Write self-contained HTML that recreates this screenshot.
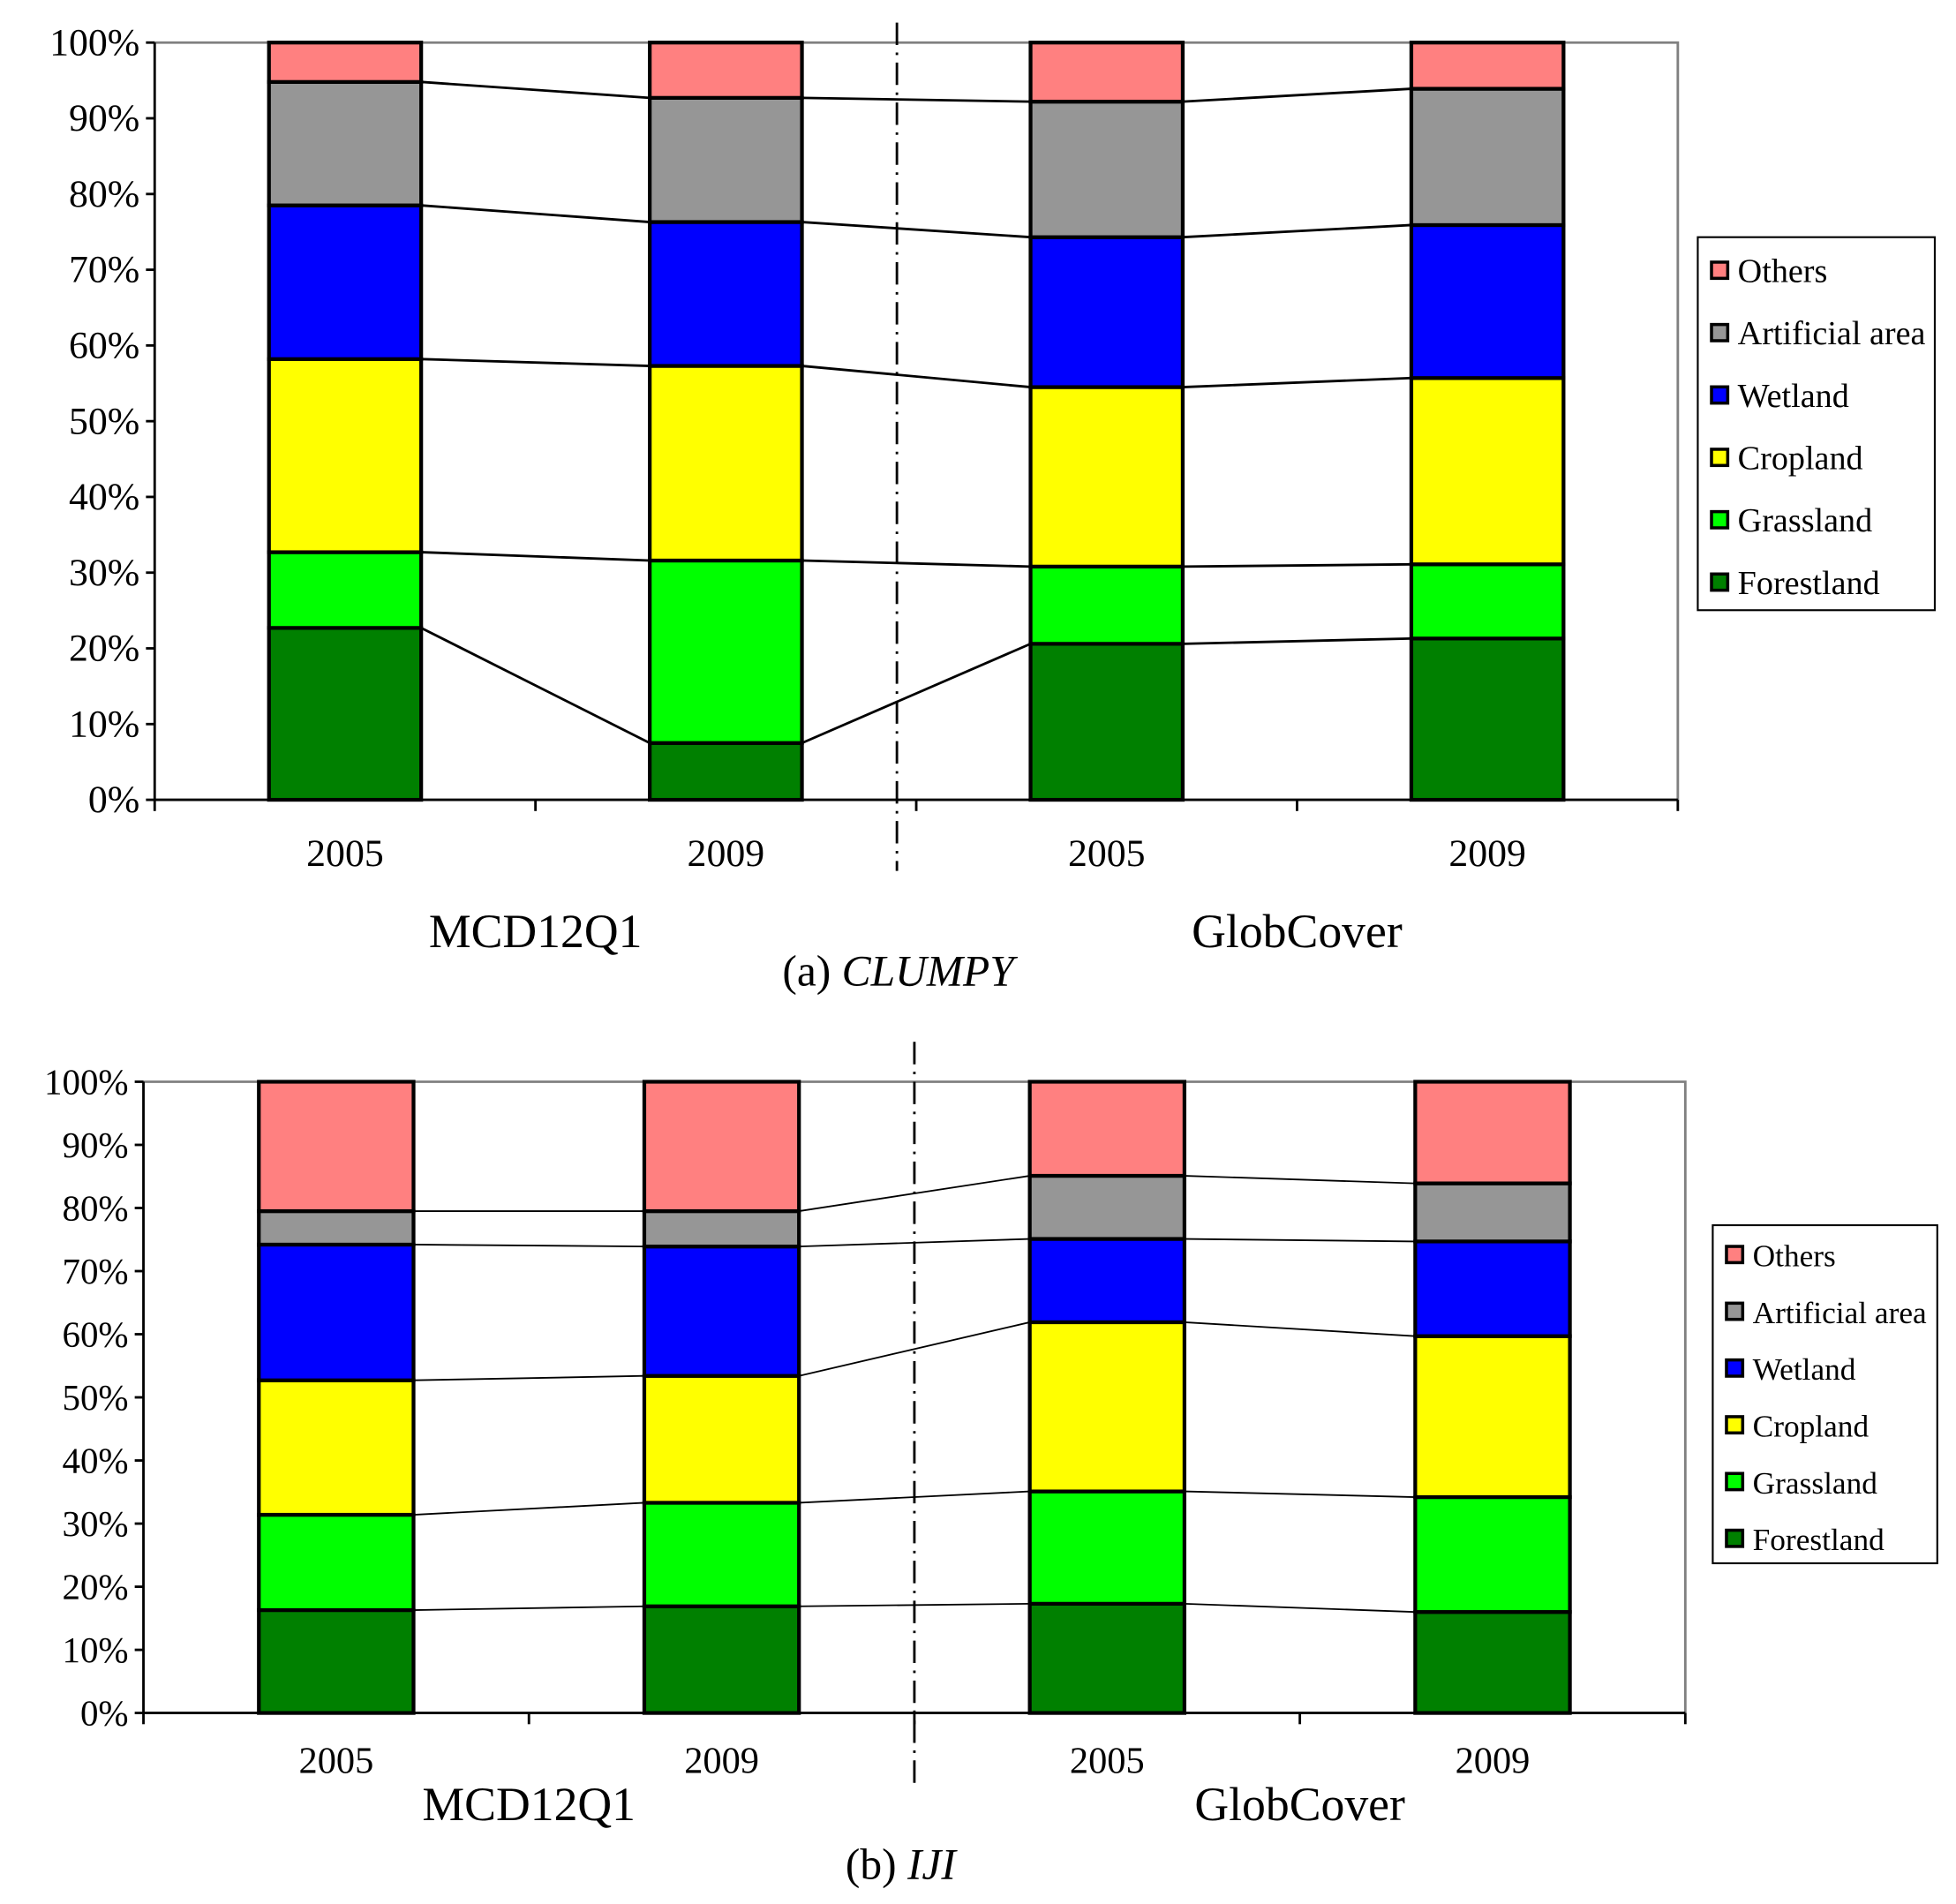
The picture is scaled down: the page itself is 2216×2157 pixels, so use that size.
<!DOCTYPE html>
<html><head><meta charset="utf-8"><style>
html,body{margin:0;padding:0;background:#fff}
svg{display:block}
svg text{font-family:"Liberation Serif","Times New Roman",serif !important;fill:#000}
</style></head><body>
<svg id="svg" width="2216" height="2157" viewBox="0 0 1568 1526" font-family="Liberation Serif, serif" xmlns="http://www.w3.org/2000/svg"></svg>
<script>
const categories = ["2005","2009","2005","2009"];
const seriesNames = ["Forestland","Grassland","Cropland","Wetland","Artificial area","Others"];
const colors = ["#008000","#00ff00","#ffff00","#0000ff","#969696","#ff8080"];
const yTicks = [0,10,20,30,40,50,60,70,80,90,100];
// Panel (a) CLUMPY
const aForest = [22.7,7.5,20.6,21.3];
const aGrass = [10.0,24.1,10.2,9.8];
const aCrop = [25.5,25.7,23.7,24.6];
const aWet = [20.3,19.0,19.8,20.2];
const aArt = [16.3,16.4,17.9,18.0];
const aOthers = [5.2,7.3,7.8,6.1];
// Panel (b) IJI
const bForest = [16.3,16.9,17.3,16.0];
const bGrass = [15.1,16.4,17.8,18.2];
const bCrop = [21.3,20.1,26.8,25.5];
const bWet = [21.5,20.5,13.2,15.0];
const bArt = [5.3,5.6,10.0,9.2];
const bOthers = [20.5,20.5,14.9,16.1];

const NS="http://www.w3.org/2000/svg";
const svg=document.getElementById('svg');
function el(tag,attrs,parent){const e=document.createElementNS(NS,tag);for(const k in attrs)e.setAttribute(k,attrs[k]);if(tag==='text')e.setAttribute('font-family','Liberation Serif, serif');(parent||svg).appendChild(e);return e;}

function panel(cfg,series){
  const g=el('g',{});
  
  
  const {x0,x1,yTop,yBot,barW}=cfg;
  const y=v=>yBot-(v/100)*(yBot-yTop);
  const slot=(x1-x0)/categories.length;
  const cx=i=>x0+slot*(i+0.5);
  const fr=el('path',{d:`M${x0},${yTop}H${x1}V${yBot}`,fill:'none',stroke:'#808080','stroke-width':2},g);
  
  
  const ya=el('line',{x1:x0,y1:yTop,x2:x0,y2:yBot,stroke:'#000','stroke-width':2},g);
  
  
  yTicks.forEach(t=>{
    el('line',{x1:x0-7,x2:x0,y1:y(t),y2:y(t),stroke:'#000','stroke-width':2},g);
    const tx=el('text',{x:x0-12,y:y(t)+10,'text-anchor':'end','font-size':cfg.tickFs},g);
    tx.textContent=t+'%';
    
    
  });
  const xa=el('line',{x1:x0,y1:yBot,x2:x1,y2:yBot,stroke:'#000','stroke-width':2},g);
  
  
  for(let i=0;i<=categories.length;i++){
    el('line',{x1:x0+slot*i,x2:x0+slot*i,y1:yBot,y2:yBot+9,stroke:'#000','stroke-width':2},g);
  }
  categories.forEach((c,i)=>{
    const tx=el('text',{x:cx(i),y:cfg.catY,'text-anchor':'middle','font-size':cfg.catFs},g);
    tx.textContent=c;
    
    
  });
  const cum=categories.map((_,i)=>{let s=0;return series.map(a=>{s+=a[i];return s;});});
  for(let i=0;i<categories.length-1;i++){
    for(let k=0;k<series.length-1;k++){
      const ln=el('line',{x1:cx(i)+barW/2,y1:y(cum[i][k]),x2:cx(i+1)-barW/2,y2:y(cum[i+1][k]),stroke:'#000','stroke-width':cfg.connW},g);
      
      
    }
  }
  categories.forEach((c,i)=>{
    let base=0;
    series.forEach((a,k)=>{
      const top=Math.min(100,base+a[i]);
      const r=el('rect',{x:cx(i)-barW/2,y:y(top),width:barW,height:y(base)-y(top),fill:colors[k],stroke:'#000','stroke-width':3},g);
      
      
      base=top;
    });
  });
  const dv=el('line',{x1:cfg.divX,x2:cfg.divX,y1:cfg.divY1,y2:cfg.divY2,stroke:'#000','stroke-width':2,'stroke-dasharray':'18,6,2,6'},g);
  
  
  const gl1=el('text',{x:x0+slot,y:cfg.grpY,'text-anchor':'middle','font-size':cfg.grpFs},g);
  gl1.textContent='MCD12Q1';
  
  
  const gl2=el('text',{x:x0+slot*3,y:cfg.grpY,'text-anchor':'middle','font-size':cfg.grpFs},g);
  gl2.textContent='GlobCover';
  
  
  const cap=el('text',{x:cfg.capX,y:cfg.capY,'text-anchor':'middle','font-size':35},g);
  cap.innerHTML=cfg.capA+' <tspan font-style="italic">'+cfg.capB+'</tspan>';
  
  
  const L=cfg.leg;
  const lb=el('rect',{x:L.x,y:L.y,width:L.w,height:L.h,fill:'#fff',stroke:'#000','stroke-width':1.5},g);
  
  
  for(let j=0;j<6;j++){
    const k=5-j;
    const yy=L.y+L.first+j*L.step;
    const sw=el('rect',{x:L.x+11,y:yy-7,width:13,height:13,fill:colors[k],stroke:'#000','stroke-width':2.5},g);
    
    
    const t=el('text',{x:L.x+32,y:yy+9,'font-size':L.fs},g);
    t.textContent=seriesNames[k];
    
    
  }
}

panel({name:'panel-a-clumpy',x0:124,x1:1345,yTop:34,yBot:641,barW:122,tickFs:31,catY:694,catFs:31,grpY:759,grpFs:38,
  divX:719,divY1:18,divY2:698,capX:720,capY:790,capA:'(a)',capB:'CLUMPY',connW:2,
  leg:{x:1361,y:190,w:190,h:299,first:27,step:50,fs:27}},
  [aForest,aGrass,aCrop,aWet,aArt,aOthers]);
panel({name:'panel-b-iji',x0:115,x1:1351,yTop:867,yBot:1373,barW:124,tickFs:29,catY:1421,catFs:30,grpY:1459,grpFs:38,
  divX:733,divY1:835,divY2:1432,capX:722,capY:1506,capA:'(b)',capB:'IJI',connW:1.3,
  leg:{x:1373,y:982,w:180,h:271,first:24,step:45.5,fs:25}},
  [bForest,bGrass,bCrop,bWet,bArt,bOthers]);
</script>
</body></html>
